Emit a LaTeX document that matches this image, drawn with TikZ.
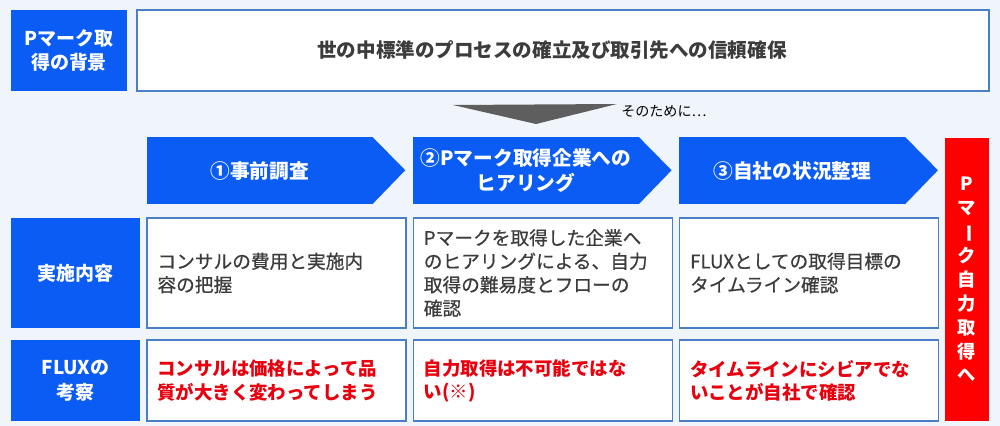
\documentclass[tikz,border=0pt]{standalone}
\usepackage{fontspec}
\setmainfont{Noto Sans CJK JP}
\newfontfamily\fluxmedium[FakeBold=0.6]{Noto Sans CJK JP}
\usetikzlibrary{positioning}
\definecolor{FLUXBlue}{HTML}{0A5CF5}
\definecolor{FLUXRed}{HTML}{FF0000}
\definecolor{FLUXNote}{HTML}{E8000F}
\definecolor{FLUXLine}{HTML}{4A7FC8}
\definecolor{FLUXPaper}{HTML}{F0F5FB}
\definecolor{FLUXInk}{HTML}{3C3C3C}
\definecolor{FLUXArrow}{HTML}{5E5E5E}
\tikzset{
  fluxkey/.style={
    fill=FLUXBlue,
    text=white,
    align=center,
    inner sep=0pt,
    font=\bfseries\fontsize{13.5}{17.5}\selectfont
  },
  fluxbox/.style={
    draw=FLUXLine,
    fill=white,
    line width=0.9pt,
    align=center,
    inner sep=0pt,
    text=FLUXInk
  },
  fluxcell/.style={
    draw=FLUXLine,
    fill=white,
    line width=0.9pt,
    text width=5.95cm,
    align=left,
    inner xsep=0.2625cm,
    inner ysep=0pt,
    text=FLUXInk,
    font=\fluxmedium\fontsize{13.3}{16.7}\selectfont
  },
  fluxnote/.style={
    fluxcell,
    text=FLUXNote,
    font=\bfseries\fontsize{13.1}{16.4}\selectfont
  },
  fluxstep/.style={
    fill=FLUXBlue,
    text=white,
    align=center,
    inner sep=0pt,
    minimum width=5.65cm,
    minimum height=1.675cm,
    font=\bfseries\fontsize{14}{17.7}\selectfont
  },
  fluxgoal/.style={
    fill=FLUXRed,
    text=white,
    align=center,
    inner sep=0pt,
    font=\bfseries\fontsize{13}{17}\selectfont
  }
}

\begin{document}
\begin{tikzpicture}[x=0.025cm,y=-0.025cm]
  \fill[FLUXPaper] (0,0) rectangle (1000,426);
  \useasboundingbox (0,0) rectangle (1000,426);
  % background
  \node[fluxkey,minimum width=2.9cm,minimum height=2.025cm] (bgkey) at (69,50.5) {Pマーク取\\得の背景};
  \node[fluxbox,minimum width=21.3cm,minimum height=2.025cm,font=\bfseries\fontsize{13.9}{17}\selectfont] (bgtext) at (563,50.5) {世の中標準のプロセスの確立及び取引先への信頼確保\hspace*{0.55cm}};
  \fill[FLUXArrow] (453,105) -- (617,104) -- (536,124) -- cycle;
  \node[anchor=west,inner sep=0pt,font=\fontsize{10}{12}\selectfont] (why) at (621,111) {そのために…};
  % rows
  \node[fluxkey,minimum width=3.225cm,minimum height=2.75cm] (dokey) at (75.5,273) {実施内容};
  \node[fluxcell,minimum height=2.75cm] (do1) at (276.5,273) {コンサルの費用と実施内\\容の把握};
  \node[fluxcell,minimum height=2.75cm,right=0.15cm of do1] (do2) {Pマークを取得した企業へ\\のヒアリングによる、自力\\取得の難易度とフローの\\確認};
  \node[fluxcell,minimum height=2.75cm,right=0.15cm of do2] (do3) {FLUXとしての取得目標の\\タイムライン確認};
  \node[fluxkey,minimum width=3.225cm,minimum height=2.025cm] (notekey) at (75.5,380.5) {FLUXの\\考察};
  \node[fluxnote,minimum height=2.025cm] (note1) at (276.5,380.5) {コンサルは価格によって品\\質が大きく変わってしまう};
  \node[fluxnote,minimum height=2.025cm,right=0.15cm of note1] (note2) {自力取得は不可能ではな\\い(※)};
  \node[fluxnote,minimum height=2.025cm,right=0.15cm of note2] (note3) {タイムラインにシビアでな\\いことが自社で確認};
  % steps
  \node[fluxstep,above right=0.325cm and 0cm of do1.north west] (step1) {①事前調査};
  \node[fluxstep,above right=0.325cm and 0cm of do2.north west] (step2) {②Pマーク取得企業への\\ヒアリング};
  \node[fluxstep,above right=0.325cm and 0cm of do3.north west] (step3) {③自社の状況整理};
  \foreach \s in {step1,step2,step3}
    \fill[FLUXBlue] ([xshift=-0.5pt]\s.north east) -- ++(33,33.5) -- ([xshift=-0.5pt]\s.south east) -- cycle;
  \node[fluxgoal,minimum width=1.1cm,minimum height=7.075cm] (goal) at (967,279.5) {P\\マ\\\rotatebox[origin=c]{-90}{ー}\\ク\\自\\力\\取\\得\\へ};
\end{tikzpicture}
\end{document}
